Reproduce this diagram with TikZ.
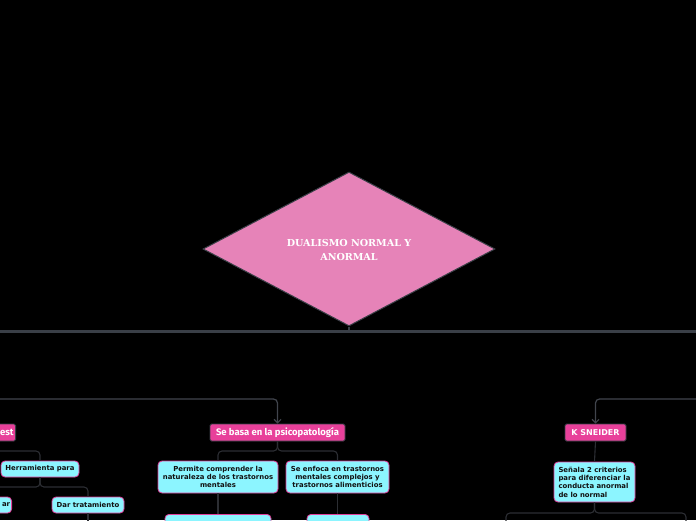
\documentclass[tikz,border=0pt]{standalone}
\usepackage{fontspec}
\setmainfont{DejaVu Sans}
\newfontfamily\cyfont{DejaVu Sans}
\newfontfamily\pkfont{Fira Sans}
\newfontfamily\dmfont{DejaVu Serif}
\usetikzlibrary{shapes.geometric,arrows.meta}
\definecolor{bgc}{HTML}{000000}
\definecolor{diafill}{HTML}{E683B8}
\definecolor{barc}{HTML}{3A3F47}
\definecolor{connA}{HTML}{41454D}
\definecolor{connB}{HTML}{2C2E33}
\definecolor{pinkfill}{HTML}{E8409A}
\definecolor{cyanfill}{HTML}{8CF5FF}
\definecolor{cyanedge}{HTML}{E0409A}
\definecolor{txtdark}{HTML}{111111}
\tikzset{
  rootbox/.style={diamond, draw=barc, line width=1pt, fill=diafill, inner sep=0pt,
    minimum width=292pt, minimum height=154pt},
  roottext/.style={text=white, font=\dmfont\bfseries\fontsize{9.6}{14}\selectfont, align=center, inner sep=0pt},
  pinkbox/.style={draw=barc, line width=0.9pt, fill=pinkfill, rounded corners=1.5pt, text=white,
    font=\pkfont\bfseries\fontsize{9.5}{10}\selectfont, inner sep=0pt, minimum height=17pt},
  cyanbox/.style={draw=cyanedge, line width=0.8pt, fill=cyanfill, rounded corners=4pt, text=txtdark,
    font=\cyfont\bfseries\fontsize{6.9}{8.3}\selectfont, inner sep=0pt, align=center},
  connmain/.style={draw=connA, line width=1.2pt, rounded corners=4pt},
  connsub/.style={draw=connB, line width=1.1pt, rounded corners=4pt},
  tip/.style={-{Straight Barb[length=3.5pt,width=7pt,line width=1.1pt]}}
}
\begin{document}
\begin{tikzpicture}[x=1pt,y=-1pt]
\fill[bgc] (0,0) rectangle (696,520);
\useasboundingbox (0,0) rectangle (696,520);

% horizontal bar
\coordinate (barL) at (0,331);
\coordinate (barR) at (696,331);
\coordinate (barM) at (349,331);

% root
\node[rootbox] (root) at (349,249) {};
\node[roottext] (roottxt) at (349,249.5) {DUALISMO NORMAL Y\\ANORMAL};
\draw[barc, line width=3pt] (barL) -- (barR);
\draw[barc, line width=1.5pt] (root.south) -- (barM);

% pink nodes
\node[pinkbox, minimum width=60pt, text width=56pt, align=right, anchor=east] (est) at (16,432.5) {est};
\node[pinkbox, minimum width=135pt] (sebasa) at (277.5,432.5) {Se basa en la psicopatología};
\node[pinkbox, minimum width=61pt, font=\cyfont\bfseries\fontsize{8}{9}\selectfont] (sneider) at (595.5,432.5) {K SNEIDER};

% incoming connectors
\coordinate (inL) at (-5,399);
\coordinate (inR) at (701,399);
\draw[connmain, tip] (inL) -| (sebasa.north);
\draw[connmain, tip] (inR) -| (sneider.north);

% cyan nodes left
\node[cyanbox, minimum width=78pt, minimum height=16pt] (herr) at (40,469) {Herramienta para};
\node[cyanbox, minimum width=60pt, minimum height=16pt, text width=57pt, align=right, anchor=east] (ar) at (12,505) {ar};
\node[cyanbox, minimum width=72pt, minimum height=16pt] (dar) at (88,505) {Dar tratamiento};
\coordinate (darD) at (88,530);

% cyan nodes middle
\node[cyanbox, minimum width=120pt, minimum height=32pt] (perm) at (218,477) {Permite comprender la\\naturaleza de los trastornos\\mentales};
\node[cyanbox, minimum width=103pt, minimum height=32pt] (enf) at (337.5,477) {Se enfoca en trastornos\\mentales complejos y\\trastornos alimenticios};
\node[cyanbox, minimum width=106pt, minimum height=20pt, anchor=north] (b1) at (218,514) {};
\node[cyanbox, minimum width=62pt, minimum height=20pt, anchor=north] (b2) at (338,514) {};

% cyan node right
\node[cyanbox, minimum width=81pt, minimum height=40pt, align=left] (sen) at (594.5,482) {Señala 2 criterios\\para diferenciar la\\conducta anormal\\de lo normal};
\coordinate (kL) at (506,530);
\coordinate (kR) at (686,530);

% sub connectors
\draw[connsub] (est.south) |- (40,451) -- (herr.north);
\draw[connsub] (herr.south) -- (40,487) -| (ar.north);
\draw[connsub] (herr.south) -- (40,487) -| (dar.north);
\draw[connsub] (dar.south) -- (darD);

\draw[connsub] (sebasa.south) -- (277.5,451) -| (perm.north);
\draw[connsub] (sebasa.south) -- (277.5,451) -| (enf.north);
\draw[connsub] (perm.south) -- (b1.north);
\draw[connsub] (enf.south) -- (enf.south |- b2.north);

\draw[connsub] (sneider.south) -- (sen.north);
\draw[connsub] (sen.south) -- (594.5,513) -| (kL);
\draw[connsub] (sen.south) -- (594.5,513) -| (kR);
\end{tikzpicture}
\end{document}
